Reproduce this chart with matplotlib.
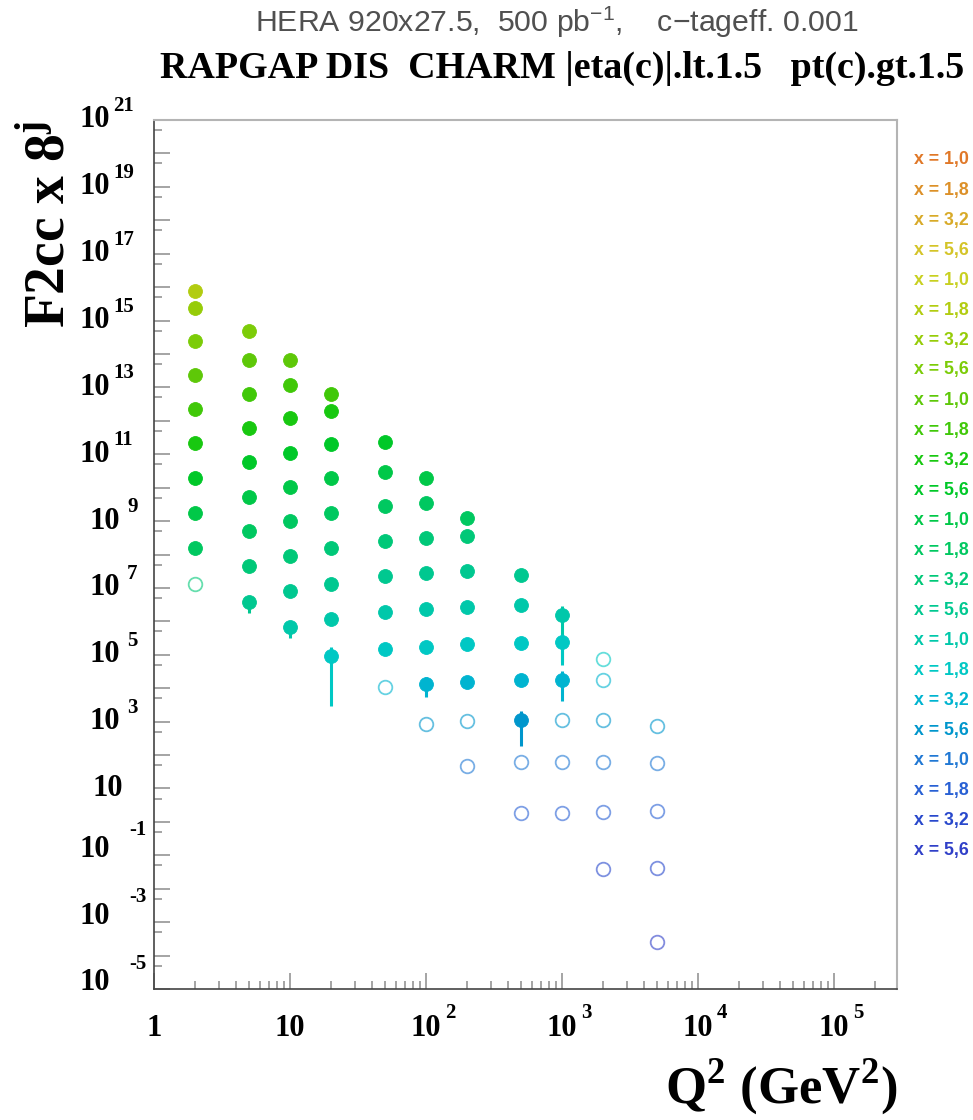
import numpy as np
import matplotlib
matplotlib.use("Agg")
import matplotlib.pyplot as plt
from matplotlib.ticker import FixedLocator, NullFormatter

plt.rcParams['mathtext.fontset'] = 'custom'
plt.rcParams['mathtext.rm'] = 'Liberation Serif:bold'
plt.rcParams['mathtext.bf'] = 'Liberation Serif:bold'
plt.rcParams['mathtext.sf'] = 'Liberation Sans'

# Q2 columns (GeV^2); x-bin number (legend order, 1 = smallest x) of the top point of each column
q2_bins = [2, 5, 10, 20, 50, 100, 200, 500, 1000, 2000, 5000]
first_xbin = [6, 8, 9, 10, 12, 13, 14, 16, 17, 18, 20]
n_filled = [9, 9, 9, 9, 7, 7, 6, 5, 3, 0, 0]

# F2cc x 8^j, one list per Q2 column, top to bottom
f2cc_scaled = [
    [7.9e15, 2.3e15, 2.4e14, 2.3e13, 2.3e12, 2.1e11, 1.9e10, 1.8e9, 1.6e8, 1.3e7],
    [4.9e14, 6.5e13, 6.3e12, 6.2e11, 5.9e10, 5.2e9, 4.9e8, 4.5e7, 3.7e6],
    [6.8e13, 1.2e13, 1.2e12, 1.1e11, 1.07e10, 9.8e8, 8.9e7, 7.9e6, 6.6e5],
    [6.5e12, 2.0e12, 2.0e11, 1.9e10, 1.7e9, 1.55e8, 1.35e7, 1.2e6, 8.9e4],
    [2.3e11, 2.95e10, 2.9e9, 2.6e8, 2.2e7, 1.9e6, 1.5e5, 1.05e4],
    [1.9e10, 3.4e9, 3.2e8, 2.8e7, 2.4e6, 1.7e5, 1.35e4, 850],
    [1.26e9, 3.7e8, 3.3e7, 2.7e6, 2.1e5, 1.55e4, 1.05e3, 46],
    [2.5e7, 3.0e6, 2.3e5, 1.8e4, 1.12e3, 60, 1.8],
    [1.5e6, 2.4e5, 1.8e4, 1.15e3, 62, 1.9],
    [7.6e4, 1.7e4, 1.12e3, 63, 2.0, 0.039],
    [740, 59, 2.1, 0.042, 2.6e-4],
]
f2cc_err = [
    [0, 0, 0, 0, 0, 0, 0, 0, 0, 0],
    [0, 0, 0, 0, 0, 0, 0, 0, 1.9e6],
    [0, 0, 0, 0, 0, 0, 0, 0, 3.4e5],
    [0, 0, 0, 0, 0, 0, 0, 0, 8.6e4],
    [0, 0, 0, 0, 0, 0, 0, 0],
    [0, 0, 0, 0, 0, 0, 7.9e3, 0],
    [0, 0, 0, 0, 0, 5.5e3, 0, 0],
    [0, 0, 0, 0, 930, 0, 0],
    [1.44e6, 1.9e5, 1.38e4, 0, 0, 0],
    [0, 0, 0, 0, 0, 0],
    [0, 0, 0, 0, 0],
]

# x bins shown in the legend (mantissa only, four per decade)
x_mantissa = ["1,0", "1,8", "3,2", "5,6"]
n_decades = 6
x_labels = ["x = " + m for d in range(n_decades) for m in x_mantissa]

palette = ['#e07828', '#dc9028', '#d8aa28', '#d4c428', '#c8d020', '#b2cc10',
           '#96cc08', '#7ccc08', '#5ec808', '#40c808', '#18c810', '#00c828',
           '#00c848', '#00c860', '#00c878', '#00c890', '#00c8aa', '#00c8c4',
           '#00b4d0', '#0096cc', '#2078d4', '#2860d4', '#2848cc', '#3040c8']

W, H = 973, 1120
fig = plt.figure(figsize=(W / 100, H / 100), dpi=100)
ax = fig.add_axes([154 / W, (H - 989) / H, (897 - 154) / W, (989 - 120) / H])
ax.set_xscale('log')
ax.set_yscale('log')
ax.set_xlim(1, 2.9e5)
ax.set_ylim(1e-5, 1e21)

for i, q2 in enumerate(q2_bins):
    for p, (val, err) in enumerate(zip(f2cc_scaled[i], f2cc_err[i])):
        col = palette[first_xbin[i] + p - 1]
        if err > 0:
            ax.errorbar([q2], [val], yerr=[[err], [err]], fmt='none', ecolor=col,
                        elinewidth=2.2, capsize=0, zorder=2)
        if p < n_filled[i]:
            ax.plot([q2], [val], 'o', ms=10, mfc=col, mec=col, mew=0.6, zorder=3)
        else:
            ax.plot([q2], [val], 'o', ms=9.8, mfc='none', mec=col, mew=1.3,
                    alpha=0.6, zorder=3)

# frame
for s in ['left', 'bottom']:
    ax.spines[s].set_color('#444444')
    ax.spines[s].set_linewidth(1.2)
for s in ['top', 'right']:
    ax.spines[s].set_color('#b4b4b4')
    ax.spines[s].set_linewidth(1.5)

ax.xaxis.set_major_locator(FixedLocator([10.0 ** n for n in range(0, 6)]))
ax.xaxis.set_minor_locator(FixedLocator([m * 10.0 ** n for n in range(0, 6) for m in range(2, 10)]))
ax.yaxis.set_major_locator(FixedLocator([10.0 ** n for n in range(-5, 22)]))
ax.yaxis.set_minor_locator(FixedLocator([5 * 10.0 ** n for n in range(-6, 21)]))
ax.xaxis.set_major_formatter(NullFormatter())
ax.xaxis.set_minor_formatter(NullFormatter())
ax.yaxis.set_major_formatter(NullFormatter())
ax.yaxis.set_minor_formatter(NullFormatter())
ax.tick_params(which='both', direction='in', color='#8c8c8c', width=1.1)
ax.tick_params(which='major', length=11.5)
ax.tick_params(which='minor', length=5.5)

lab = dict(family='Liberation Serif', weight='bold', color='black')

# y labels, ROOT style "10 ^n"
for n in range(-5, 22, 2):
    kw = dict(xycoords=('axes fraction', 'data'), textcoords='offset pixels', annotation_clip=False)
    if n == 1:
        ax.annotate("10", (0, 10.0 ** n), xytext=(-31, 0), ha='right', va='center', fontsize=22, **lab, **kw)
    elif n > 1:
        e = str(n)
        x10 = -34 if len(e) == 1 else -44
        ax.annotate("10", (0, 10.0 ** n), xytext=(x10, 0), ha='right', va='center', fontsize=22, **lab, **kw)
        ax.annotate(e, (0, 10.0 ** n), xytext=(x10 + (7 if len(e) == 1 else 3), 14),
                    ha='left', va='center', fontsize=15, **lab, **kw)
    else:
        ax.annotate("10", (0, 10.0 ** n), xytext=(-44, 6), ha='right', va='center', fontsize=22, **lab, **kw)
        ax.annotate(str(n), (0, 10.0 ** n), xytext=(-7, 25), ha='right', va='center', fontsize=15, **lab, **kw)

# x labels
for n in range(0, 6):
    kw = dict(xycoords=('data', 'axes fraction'), textcoords='offset pixels', annotation_clip=False)
    if n == 0:
        ax.annotate("1", (1.0, 0), xytext=(0, -40), ha='center', va='center', fontsize=22, **lab, **kw)
    elif n == 1:
        ax.annotate("10", (10.0, 0), xytext=(0, -40), ha='center', va='center', fontsize=22, **lab, **kw)
    else:
        ax.annotate("10", (10.0 ** n, 0), xytext=(0, -40), ha='center', va='center', fontsize=22, **lab, **kw)
        ax.annotate(str(n), (10.0 ** n, 0), xytext=(19, -24), ha='left', va='center', fontsize=15, **lab, **kw)

# axis titles
fig.text(49 / W, 1 - 121 / H, r"F2cc x 8$^{\mathbf{j}}$", rotation=90, ha='center', va='top',
         fontsize=40, **lab)
fig.text(897 / W, 1 - 1103 / H, r"Q$^{\mathbf{2}}$ (GeV$^{\mathbf{2}}$)", ha='right', va='baseline',
         fontsize=38, **lab)

# header lines
fig.text(255 / W, 1 - 22 / H, r"HERA 920x27.5,  500 pb$^{\mathsf{-1}}$,    c$\mathsf{-}$tageff. 0.001",
         ha='left', va='center', fontsize=21.8, family='Liberation Sans', color='#505050')
fig.text(160 / W, 1 - 68 / H, "RAPGAP DIS  CHARM |eta(c)|.lt.1.5   pt(c).gt.1.5",
         ha='left', va='center', fontsize=27.4, **lab)

# legend of x bins along the right edge
for k, txt in enumerate(x_labels):
    fig.text(914 / W, 1 - (160 + 30 * k) / H, txt, ha='left', va='center', fontsize=12.8,
             family='Liberation Sans', weight='bold', color=palette[k])

fig.savefig('out.png', dpi=100)
